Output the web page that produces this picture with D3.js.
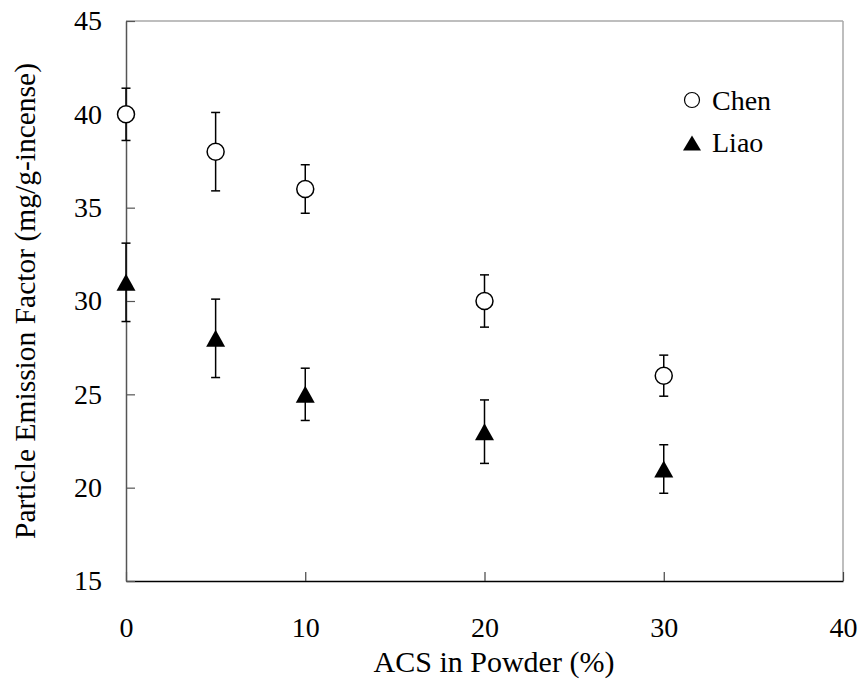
<!DOCTYPE html>
<html>
<head>
<meta charset="utf-8">
<script src="https://cdn.jsdelivr.net/npm/d3@7"></script>
<style>
  body { margin: 0; background: #fff; }
  svg text { font-family: "Liberation Serif", "Times New Roman", Times, "DejaVu Serif", serif; fill: #000; }
</style>
</head>
<body>
<svg id="canvas" width="860" height="680"></svg>
<script>
// values
const acs = [0, 5, 10, 20, 30];
const chenValues = [40, 38, 36, 30, 26];
const chenErr = [1.4, 2.1, 1.3, 1.4, 1.1];
const liaoValues = [31, 28, 25, 23, 21];
const liaoErr = [2.1, 2.1, 1.4, 1.7, 1.3];
const xTicks = [0, 10, 20, 30, 40];
const yTicks = [15, 20, 25, 30, 35, 40, 45];

let serif = "'Liberation Serif', 'Times New Roman', Times, 'DejaVu Serif', serif";

let svg = d3.select("#canvas");

let plotLeft = 126, plotRight = 843, plotTop = 21, plotBottom = 581;

let x = d3.scaleLinear().domain([0, 40]).range([plotLeft, plotRight]);
let y = d3.scaleLinear().domain([15, 45]).range([plotBottom, plotTop]);

// frame: top and right are light grey
svg.append("line")
    .attr("x1", plotLeft).attr("x2", plotRight).attr("y1", plotTop).attr("y2", plotTop)
    .attr("stroke", "#a8a8a8").attr("stroke-width", 1.5);
svg.append("line")
    .attr("x1", plotRight).attr("x2", plotRight).attr("y1", plotTop).attr("y2", plotBottom)
    .attr("stroke", "#a8a8a8").attr("stroke-width", 1.5);

let xAxis = d3.axisBottom(x)
    .tickValues(xTicks)
    .tickSizeInner(-9)
    .tickSizeOuter(0)
    .tickPadding(36);

let gx = svg.append("g")
    .attr("transform", `translate(0,${plotBottom})`)
    .call(xAxis)
    .attr("font-family", serif)
    .attr("font-size", 28);
gx.select(".domain").attr("stroke", "#000").attr("stroke-width", 1.5);
gx.selectAll(".tick line").attr("stroke", "#444").attr("stroke-width", 1.2);
gx.selectAll(".tick text").style("font-family", serif).style("font-size", "28px");

let yAxis = d3.axisLeft(y)
    .tickValues(yTicks)
    .tickSizeInner(-9)
    .tickSizeOuter(0)
    .tickPadding(24);

let gy = svg.append("g")
    .attr("transform", `translate(${plotLeft},0)`)
    .call(yAxis)
    .attr("font-family", serif)
    .attr("font-size", 28);
gy.select(".domain").attr("stroke", "#555").attr("stroke-width", 1.5);
gy.selectAll(".tick line").attr("stroke", "#555").attr("stroke-width", 1.2);
gy.selectAll(".tick text").style("font-family", serif).style("font-size", "28px");

// axis titles
svg.append("text")
    .attr("x", 494)
    .attr("y", 672)
    .attr("text-anchor", "middle")
    .style("font-family", serif)
    .style("font-size", "30px")
    .text("ACS in Powder (%)");

svg.append("text")
    .attr("transform", `translate(35,${(plotTop + plotBottom) / 2}) rotate(-90)`)
    .attr("text-anchor", "middle")
    .style("font-family", serif)
    .style("font-size", "29.5px")
    .text("Particle Emission Factor (mg/g-incense)");

let triangle = (w, h) => `M0,${-h / 2}L${w / 2},${h / 2}L${-w / 2},${h / 2}Z`;

let drawSeries = (vals, errs, kind) => {
    let g = svg.append("g");
    let pts = acs.map((a, i) => ({ a: a, v: vals[i], e: errs[i] }));

    let bars = g.selectAll(".err")
        .data(pts)
        .enter()
        .append("g");
    bars.append("line")
        .attr("x1", d => x(d.a)).attr("x2", d => x(d.a))
        .attr("y1", d => y(d.v + d.e)).attr("y2", d => y(d.v - d.e))
        .attr("stroke", "#000").attr("stroke-width", 1.5);
    bars.append("line")
        .attr("x1", d => x(d.a) - 4.5).attr("x2", d => x(d.a) + 4.5)
        .attr("y1", d => y(d.v + d.e)).attr("y2", d => y(d.v + d.e))
        .attr("stroke", "#000").attr("stroke-width", 1.5);
    bars.append("line")
        .attr("x1", d => x(d.a) - 4.5).attr("x2", d => x(d.a) + 4.5)
        .attr("y1", d => y(d.v - d.e)).attr("y2", d => y(d.v - d.e))
        .attr("stroke", "#000").attr("stroke-width", 1.5);

    if (kind == "circle") {
        g.selectAll(".mark")
            .data(pts)
            .enter()
            .append("circle")
            .attr("cx", d => x(d.a))
            .attr("cy", d => y(d.v))
            .attr("r", 8.5)
            .attr("fill", "#fff")
            .attr("stroke", "#000")
            .attr("stroke-width", 1.5);
    } else {
        g.selectAll(".mark")
            .data(pts)
            .enter()
            .append("path")
            .attr("d", triangle(19, 17))
            .attr("transform", d => `translate(${x(d.a)},${y(d.v)})`)
            .attr("fill", "#000");
    }
};

drawSeries(chenValues, chenErr, "circle");
drawSeries(liaoValues, liaoErr, "triangle");

// legend
svg.append("circle")
    .attr("cx", 692).attr("cy", 100).attr("r", 7.5)
    .attr("fill", "#fff").attr("stroke", "#000").attr("stroke-width", 1.2);
svg.append("text")
    .attr("x", 712).attr("y", 110)
    .style("font-family", serif)
    .style("font-size", "28px")
    .text("Chen");

svg.append("path")
    .attr("d", triangle(18, 15))
    .attr("transform", "translate(692,143)")
    .attr("fill", "#000");
svg.append("text")
    .attr("x", 712).attr("y", 152)
    .style("font-family", serif)
    .style("font-size", "28px")
    .text("Liao");
</script>
</body>
</html>
